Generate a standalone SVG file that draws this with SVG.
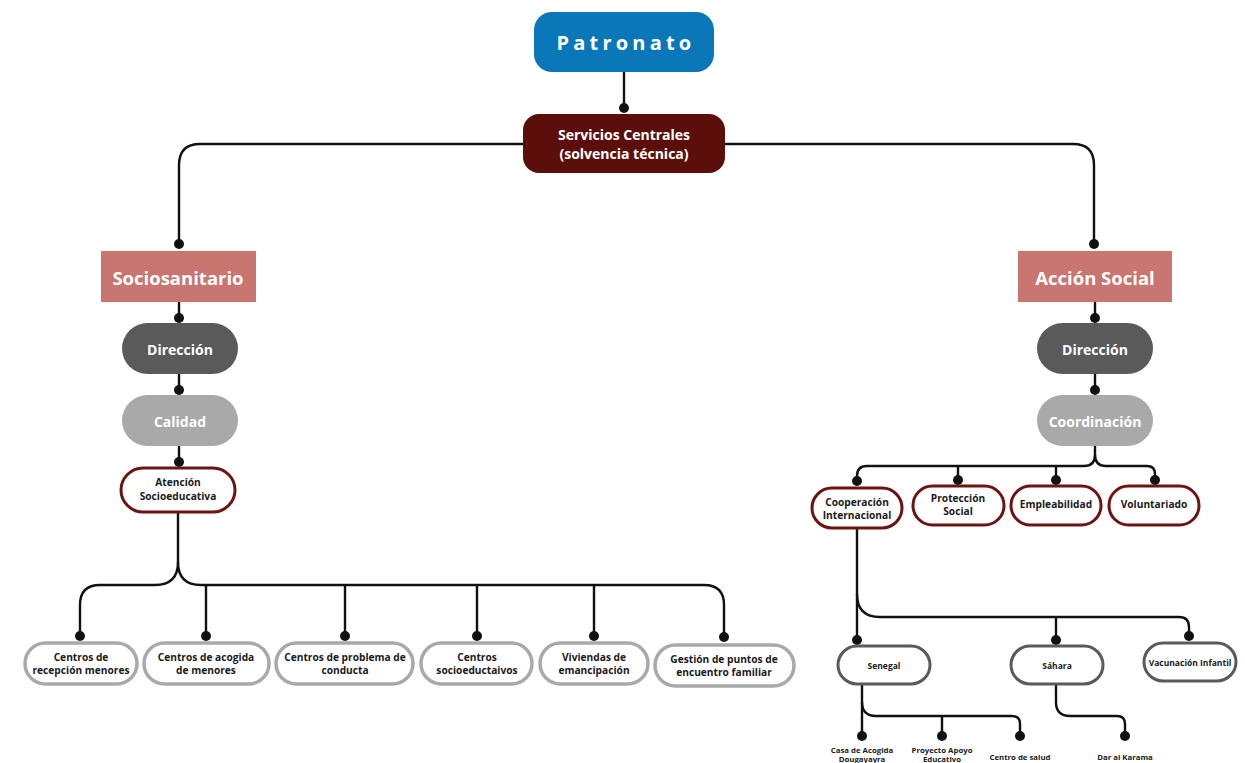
<svg xmlns="http://www.w3.org/2000/svg" width="1245" height="763" viewBox="0 0 1245 763">
<style>
text{font-family:"Open Sans","DejaVu Sans",sans-serif;font-weight:700;text-anchor:middle;dominant-baseline:central}
.w{fill:#ffffff}
.k{fill:#1a1a1a}
.ln{fill:none;stroke:#111;stroke-width:2.4}
.dot{fill:#111}
.mar{fill:#ffffff;stroke:#6b1512;stroke-width:3}
.gry{fill:#ffffff;stroke:#a9a9a9;stroke-width:3.5}
.dg{fill:#ffffff;stroke:#5a5a5a;stroke-width:3}
.s1{font-size:10.2px}
.s2{font-size:8.5px}
.s3{font-size:7.8px}
</style>
<rect width="1245" height="763" fill="#ffffff"/>
<g id="connectors">
<path class="ln" d="M624 72V108"/>
<path class="ln" d="M523 144H200Q179 144 179 165V244"/>
<path class="ln" d="M725 144H1073Q1094 144 1094 165V244"/>
<path class="ln" d="M179 302V318M179 374V390M179 446V462"/>
<path class="ln" d="M1095 302V318M1095 374V390"/>
<path class="ln" d="M178 512V562Q178 585 155 585H100Q80 585 80 605V636"/>
<path class="ln" d="M178 562Q178 585 201 585H704Q724 585 724 605V637"/>
<path class="ln" d="M206 585V636M345 585V636M477 585V636M594 585V636"/>
<path class="ln" d="M1095 446V455Q1095 466 1084 466H867Q857 466 857 476V481"/>
<path class="ln" d="M1095 455Q1095 466 1106 466H1147Q1155 466 1155 474V480"/>
<path class="ln" d="M958 466V480M1056 466V480"/>
<path class="ln" d="M857 528V640"/>
<path class="ln" d="M857 594Q857 617 880 617H1179Q1189 617 1189 627V636"/>
<path class="ln" d="M1056 617V640"/>
<path class="ln" d="M862 684V736"/>
<path class="ln" d="M862 702Q862 716 876 716H1012Q1020 716 1020 724V736"/>
<path class="ln" d="M942 716V736"/>
<path class="ln" d="M1056 684V702Q1056 716 1070 716H1117Q1125 716 1125 724V736"/>
<circle class="dot" cx="624" cy="108" r="5"/>
<circle class="dot" cx="179" cy="244" r="5"/>
<circle class="dot" cx="1094" cy="244" r="5"/>
<circle class="dot" cx="179" cy="318" r="5"/>
<circle class="dot" cx="179" cy="390" r="5"/>
<circle class="dot" cx="179" cy="462" r="5"/>
<circle class="dot" cx="1095" cy="318" r="5"/>
<circle class="dot" cx="1095" cy="390" r="5"/>
<circle class="dot" cx="80" cy="636" r="5"/>
<circle class="dot" cx="206" cy="636" r="5"/>
<circle class="dot" cx="345" cy="636" r="5"/>
<circle class="dot" cx="477" cy="636" r="5"/>
<circle class="dot" cx="594" cy="636" r="5"/>
<circle class="dot" cx="724" cy="637" r="5"/>
<circle class="dot" cx="857" cy="481" r="5"/>
<circle class="dot" cx="958" cy="480" r="5"/>
<circle class="dot" cx="1056" cy="480" r="5"/>
<circle class="dot" cx="1155" cy="480" r="5"/>
<circle class="dot" cx="857" cy="640" r="5"/>
<circle class="dot" cx="1056" cy="640" r="5"/>
<circle class="dot" cx="1189" cy="636" r="5"/>
<circle class="dot" cx="862" cy="736" r="5"/>
<circle class="dot" cx="942" cy="736" r="5"/>
<circle class="dot" cx="1020" cy="736" r="5"/>
<circle class="dot" cx="1125" cy="736" r="5"/>
</g>
<g id="patronato"><rect x="534" y="12" width="180" height="60" rx="18" fill="#0a78b8"/><text class="w" x="626" y="42" font-size="20" letter-spacing="4.2">Patronato</text></g>
<g id="servicios"><rect x="523" y="114" width="202" height="59" rx="16" fill="#5c0f0a"/><text class="w" x="624" y="134" font-size="14">Servicios Centrales</text><text class="w" x="624" y="153" font-size="14">(solvencia técnica)</text></g>
<g id="sociosanitario"><rect x="101" y="251" width="155" height="51" fill="#c97570"/><text class="w" x="178" y="277" font-size="18.5">Sociosanitario</text></g>
<g id="accion"><rect x="1018" y="251" width="154" height="51" fill="#c97570"/><text class="w" x="1095" y="277" font-size="18.5">Acción Social</text></g>
<g id="direccion-l"><rect x="122" y="323" width="116" height="51" rx="25.5" fill="#5a5a5a"/><text class="w" x="180" y="349" font-size="14">Dirección</text></g>
<g id="calidad"><rect x="122" y="395" width="116" height="51" rx="25.5" fill="#a9a9a9"/><text class="w" x="180" y="421" font-size="14">Calidad</text></g>
<g id="atencion"><rect x="121" y="468" width="114" height="44" rx="22" class="mar"/><text class="k s1" x="178" y="482">Atención</text><text class="k s1" x="178" y="496">Socioeducativa</text></g>
<g id="direccion-r"><rect x="1037" y="323" width="116" height="51" rx="25.5" fill="#5a5a5a"/><text class="w" x="1095" y="349" font-size="14">Dirección</text></g>
<g id="coordinacion"><rect x="1037" y="395" width="116" height="51" rx="25.5" fill="#a9a9a9"/><text class="w" x="1095" y="421" font-size="14">Coordinación</text></g>
<g id="c1"><rect x="25" y="643" width="112" height="41" rx="20.5" class="gry"/><text class="k s1" x="81" y="657">Centros de</text><text class="k s1" x="81" y="670">recepción menores</text></g>
<g id="c2"><rect x="144" y="643" width="125" height="41" rx="20.5" class="gry"/><text class="k s1" x="206" y="657">Centros de acogida</text><text class="k s1" x="206" y="670">de menores</text></g>
<g id="c3"><rect x="276" y="643" width="137" height="41" rx="20.5" class="gry"/><text class="k s1" x="345" y="657">Centros de problema de</text><text class="k s1" x="345" y="670">conducta</text></g>
<g id="c4"><rect x="421" y="643" width="111" height="41" rx="20.5" class="gry"/><text class="k s1" x="477" y="657">Centros</text><text class="k s1" x="477" y="670">socioeductaivos</text></g>
<g id="c5"><rect x="540" y="643" width="108" height="41" rx="20.5" class="gry"/><text class="k s1" x="594" y="657">Viviendas de</text><text class="k s1" x="594" y="670">emancipación</text></g>
<g id="c6"><rect x="655" y="645" width="139" height="41" rx="20.5" class="gry"/><text class="k s1" x="724" y="659">Gestión de puntos de</text><text class="k s1" x="724" y="672">encuentro familiar</text></g>
<g id="cooperacion"><rect x="812" y="488" width="90" height="40" rx="20" class="mar"/><text class="k s1" x="857" y="502">Cooperación</text><text class="k s1" x="857" y="515">Internacional</text></g>
<g id="proteccion"><rect x="913" y="486" width="91" height="39" rx="19.5" class="mar"/><text class="k s1" x="958" y="498">Protección</text><text class="k s1" x="958" y="511">Social</text></g>
<g id="empleabilidad"><rect x="1011" y="486" width="90" height="39" rx="19.5" class="mar"/><text class="k s1" x="1056" y="504">Empleabilidad</text></g>
<g id="voluntariado"><rect x="1109" y="486" width="90" height="39" rx="19.5" class="mar"/><text class="k s1" x="1154" y="504">Voluntariado</text></g>
<g id="senegal"><rect x="838" y="646" width="92" height="38" rx="19" class="dg"/><text class="k s2" x="884" y="665">Senegal</text></g>
<g id="sahara"><rect x="1011" y="646" width="92" height="38" rx="19" class="dg"/><text class="k s2" x="1057" y="665">Sáhara</text></g>
<g id="vacunacion"><rect x="1144" y="643" width="92" height="38" rx="19" class="dg"/><text class="k s2" x="1190" y="662">Vacunación Infantil</text></g>
<g id="casa"><text class="k s3" x="862" y="750">Casa de Acogida</text><text class="k s3" x="862" y="759">Dougayayra</text></g>
<g id="proyecto"><text class="k s3" x="942" y="750">Proyecto Apoyo</text><text class="k s3" x="942" y="759">Educativo</text></g>
<g id="centro-salud"><text class="k s3" x="1020" y="757">Centro de salud</text></g>
<g id="dar"><text class="k s3" x="1125" y="757">Dar al Karama</text></g>
</svg>
